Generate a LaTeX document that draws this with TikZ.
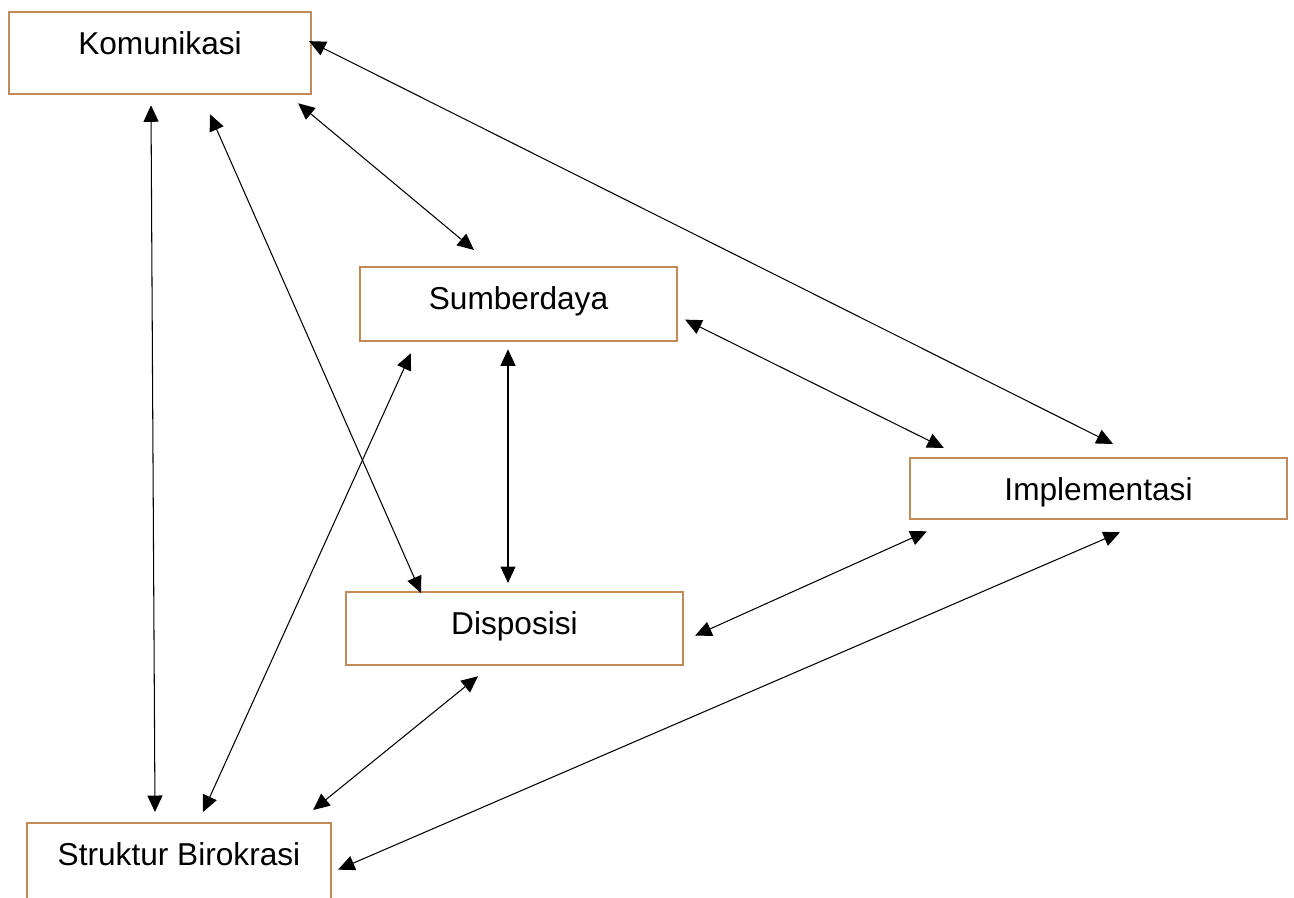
\documentclass[tikz,border=0pt]{standalone}
\usepackage{fontspec}
\setmainfont{Liberation Sans}
\definecolor{boxbrown}{RGB}{192, 139, 88}
\usepackage{tikz}
\usetikzlibrary{arrows.meta, calc}
\tikzset{
  faktor/.style={draw=boxbrown, line width=1.3pt, inner sep=0pt, anchor=north, text height=0.84cm, font=\fontsize{18}{22}\selectfont},
  hubung/.style={line width=0.6pt, {Triangle[length=0.33cm, width=0.3cm]}-{Triangle[length=0.33cm, width=0.3cm]}}
}

\begin{document}
\begin{tikzpicture}[x=0.02cm, y=-0.02cm]
  \clip (0, 0) rectangle (1294, 897);

  % Boxes
  \node[faktor, minimum width=6.04cm, text depth=0.8cm] (kom) at (160, 11) {Komunikasi};
  \node[faktor, minimum width=6.34cm, text depth=0.64cm] (sum) at (518.5, 266) {Sumberdaya};
  \node[faktor, minimum width=7.54cm, text depth=0.38cm] (imp) at (1098.5, 457) {Implementasi};
  \node[faktor, minimum width=6.74cm, text depth=0.62cm] (dis) at (514.5, 591) {Disposisi};
  \node[faktor, minimum width=6.08cm, text depth=0.82cm] (str) at (179, 822) {Struktur Birokrasi};

  % Komunikasi links
  \draw[hubung] ([shift={(-3, -12)}]kom.east) -- ([shift={(14.5, -13)}]imp.north);
  \draw[hubung] ([shift={(-14, 8)}]kom.south east) -- ([shift={(-44.5, -16)}]sum.north);
  \draw[hubung] ([shift={(50, 19)}]kom.south) -- ([shift={(-93.5, 2)}]dis.north);
  \draw[hubung] ([shift={(-9, 10)}]kom.south) -- ([shift={(-24, -10)}]str.north);

  % Sumberdaya links
  \draw[hubung] ([shift={(52, 11)}]sum.south west) -- ([shift={(24, -10)}]str.north);
  \draw[hubung] ([shift={(-10.5, 7)}]sum.south) -- ([shift={(-6.5, -8)}]dis.north);
  \draw[hubung] ([shift={(7, 15.5)}]sum.east) -- ([shift={(35, -9)}]imp.north west);

  % Disposisi links
  \draw[hubung] ([shift={(11, 7)}]dis.east) -- ([shift={(18, 11)}]imp.south west);
  \draw[hubung] ([shift={(-36.5, 10)}]dis.south) -- ([shift={(-19, -12)}]str.north east);

  % Implementasi to Struktur Birokrasi
  \draw[hubung] ([shift={(21.5, 12)}]imp.south) -- ([shift={(6, 5)}]str.east);
\end{tikzpicture}
\end{document}
